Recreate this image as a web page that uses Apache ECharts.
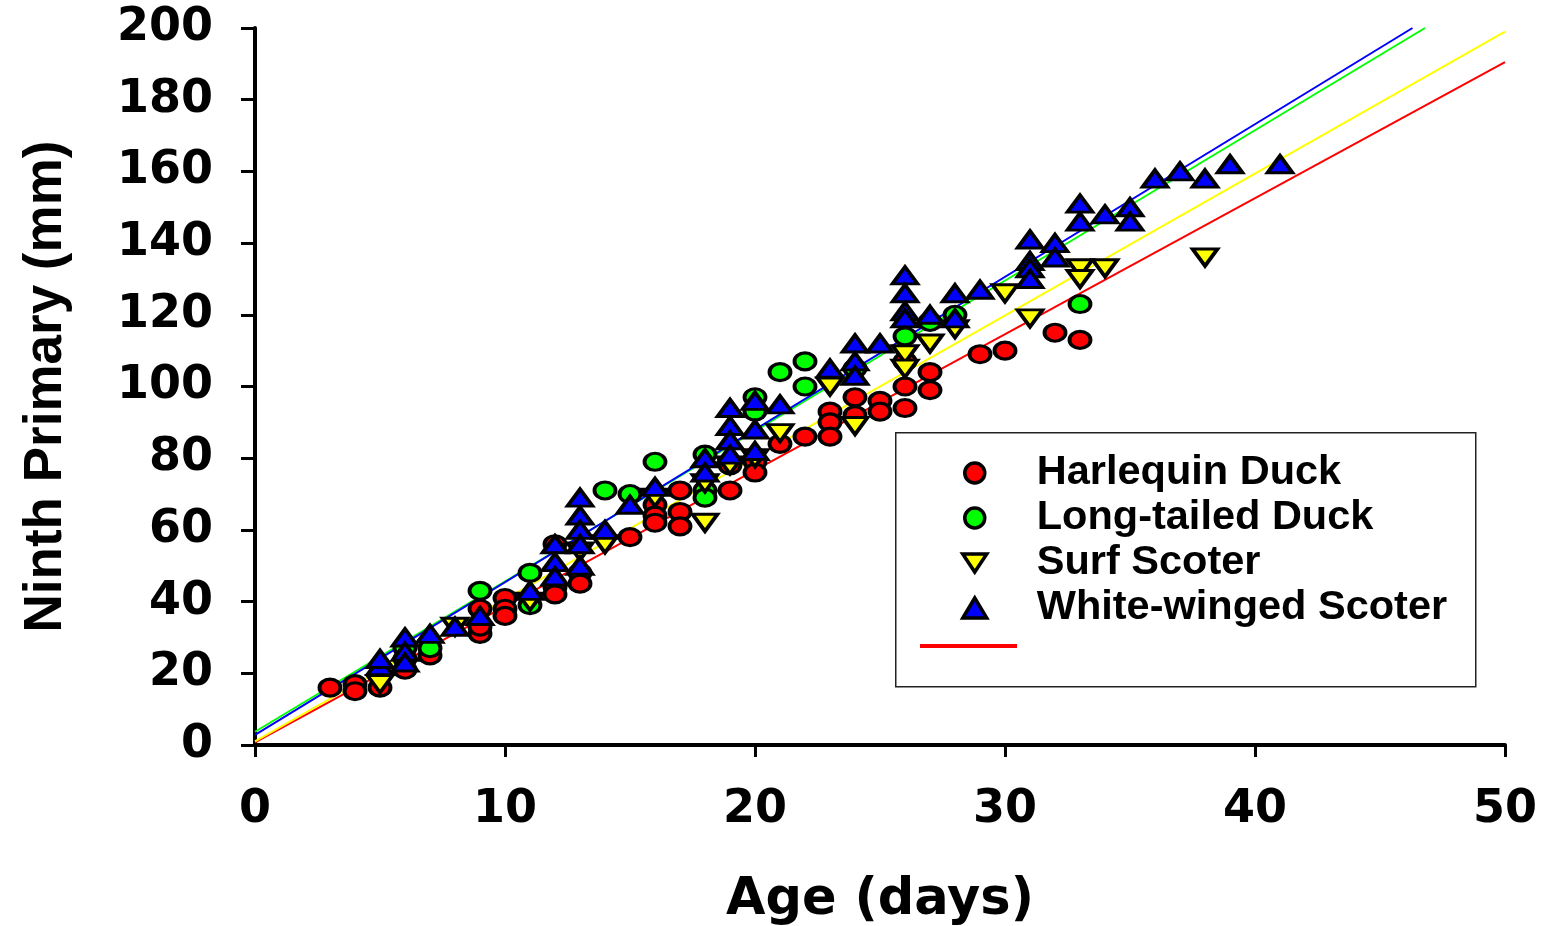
<!DOCTYPE html>
<html>
<head>
<meta charset="utf-8">
<script src="https://cdn.jsdelivr.net/npm/echarts@6/dist/echarts.min.js"></script>
<style>
  html, body { margin: 0; padding: 0; background: #ffffff; }
  #chart { width: 1542px; height: 926px; }
</style>
</head>
<body>
<div id="chart"></div>
<script>
// ---- Data (age in days, ninth primary length in mm) ----
const harlequin = [
  [3,16],[4,17],[4,15],[5,16],[6,21],[6,24],[7,25],[9,31],[9,33],[9,38],
  [10,41],[10,38],[10,36],[12,44],[12,42],[12,56],[13,48],[13,45],[15,58],
  [16,67],[16,64],[16,62],[17,71],[17,65],[17,61],[19,78],[19,71],[20,79],[20,76],
  [21,84],[22,86],[23,93],[23,90],[23,86],[24,97],[24,92],[25,96],[25,93],
  [26,107],[26,100],[26,94],[27,104],[27,99],[29,109],[30,110],[32,115],[33,113]
];
const longtailed = [
  [6,27],[7,27],[9,43],[11,48],[11,39],[14,71],[15,70],[16,79],[18,81],[18,71],[18,69],
  [20,97],[20,93],[21,104],[22,107],[22,100],[24,105],[26,114],[27,118],[28,120],[33,123]
];
const surf = [
  [5,17],[8,33],[11,40],[13,54],[14,56],[16,69],[18,73],[18,62],[19,78],[20,80],
  [21,87],[23,100],[24,89],[26,109],[26,105],[27,112],[28,116],[30,126],[31,119],
  [33,133],[33,130],[34,133],[38,136]
];
const whitewinged = [
  [5,22],[5,24],[6,30],[6,26],[6,23],[7,31],[8,33],[9,36],[11,43],
  [12,56],[12,51],[12,47],[13,69],[13,64],[13,60],[13,56],[13,50],[14,60],[15,67],[16,72],
  [18,80],[18,76],[19,94],[19,89],[19,85],[19,81],[20,96],[20,88],[20,82],[21,95],
  [23,105],[24,112],[24,107],[24,103],[25,112],[26,131],[26,126],[26,121],[26,119],
  [27,120],[28,126],[28,119],[29,127],[31,141],[31,135],[31,133],[31,130],[32,140],[32,136],
  [33,151],[33,146],[34,148],[35,150],[35,146],[36,158],[37,160],[38,158],[39,162],[41,162]
];
// fitted regression lines (endpoints)
const harlequinFit = [[0,0.7],[50,190.5]];
const longtailedFit = [[0,3.7],[46.8,200]];
const surfFit = [[0,1.0],[50,199]];
const whitewingedFit = [[0,2.8],[46.3,200]];

const seriesNames = ['Harlequin Duck','Long-tailed Duck','Surf Scoter','White-winged Scoter'];
const xTicks = [0,10,20,30,40,50];
const yTicks = [0,20,40,60,80,100,120,140,160,180,200];

const ELLIPSE = 'path://M-1,0A1,1,0,1,0,1,0A1,1,0,1,0,-1,0Z';
const DOWN_TRIANGLE = 'path://M0,0L2,0L1,1.5Z';
const chart = echarts.init(document.getElementById('chart'));

function fitLine(name, data, color) {
  return {
    name: name, type: 'line', data: data, symbol: 'none', z: 1,
    lineStyle: { color: color, width: 2 }, itemStyle: { color: color },
    silent: true, animation: false
  };
}
function scatter(name, data, color, symbol, size, rot, z) {
  return {
    name: name, type: 'scatter', data: data, symbol: symbol, symbolSize: size,
    symbolRotate: rot, z: z, animation: false,
    itemStyle: { color: color, borderColor: '#000', borderWidth: 3.5, opacity: 1 }
  };
}

const tickFont = { fontFamily: 'DejaVu Sans', fontWeight: 'bold', fontSize: 46, color: '#000' };

chart.setOption({
  backgroundColor: '#ffffff',
  animation: false,
  grid: { left: 255, right: 37, top: 28, bottom: 181, containLabel: false, outerBoundsMode: 'none' },
  xAxis: {
    type: 'value', min: 0, max: 50, interval: 10,
    name: 'Age (days)', nameLocation: 'middle', nameGap: 130,
    nameTextStyle: { fontFamily: 'DejaVu Sans', fontWeight: 'bold', fontSize: 51, color: '#000' },
    axisLine: { lineStyle: { color: '#000', width: 4 } },
    axisTick: { show: true, inside: false, length: 12, lineStyle: { color: '#000', width: 3 } },
    axisLabel: Object.assign({ margin: 42,
      formatter: v => (xTicks.indexOf(v) >= 0 ? String(v) : '') }, tickFont),
    splitLine: { show: false }
  },
  yAxis: {
    type: 'value', min: 0, max: 200, interval: 20,
    name: 'Ninth Primary (mm)', nameLocation: 'middle', nameGap: 182,
    nameTextStyle: { fontFamily: 'Liberation Sans', fontWeight: 'bold', fontSize: 53, color: '#000' },
    axisLine: { show: true, lineStyle: { color: '#000', width: 4 } },
    axisTick: { show: true, inside: false, length: 14, lineStyle: { color: '#000', width: 3 } },
    axisLabel: Object.assign({ margin: 42,
      formatter: v => (yTicks.indexOf(v) >= 0 ? String(v) : '') }, tickFont),
    splitLine: { show: false }
  },
  graphic: [{
    type: 'rect', left: 895, top: 432, z: 0,
    shape: { width: 580, height: 254 },
    style: { fill: '#ffffff', stroke: '#222', lineWidth: 1.5 }
  }],
  legend: [{
    data: [
      { name: seriesNames[0] },
      { name: seriesNames[1] },
      { name: seriesNames[2], icon: DOWN_TRIANGLE },
      { name: seriesNames[3] }
    ],
    orient: 'vertical', left: 956, top: 447,
    itemWidth: 24, itemHeight: 20, itemGap: 3, selectedMode: false, z: 5,
    itemStyle: { borderColor: '#000', borderWidth: 3.5 },
    textStyle: { fontFamily: 'Liberation Sans', fontWeight: 'bold', fontSize: 41.5, color: '#000',
      padding: [0, 0, 0, 45] }
  }, {
    data: ['Harlequin Duck fit'], orient: 'vertical', left: 913, top: 639,
    itemWidth: 97, itemHeight: 4, selectedMode: false, z: 5,
    lineStyle: { width: 4 },
    formatter: () => '',
    textStyle: { fontSize: 1 }
  }],
  series: [
    fitLine('Harlequin Duck fit', harlequinFit, '#ff0000'),
    fitLine('Long-tailed Duck fit', longtailedFit, '#00ff00'),
    fitLine('Surf Scoter fit', surfFit, '#ffff00'),
    fitLine('White-winged Scoter fit', whitewingedFit, '#0000ff'),
    scatter('Harlequin Duck', harlequin, '#ff0000', ELLIPSE, [21,17], 0, 2),
    scatter('Long-tailed Duck', longtailed, '#00ff00', ELLIPSE, [21,17], 0, 3),
    scatter('Surf Scoter', surf, '#ffff00', 'triangle', [25,17], 180, 4),
    scatter('White-winged Scoter', whitewinged, '#0000ff', 'triangle', [25,17], 0, 5)
  ]
});
</script>
</body>
</html>
